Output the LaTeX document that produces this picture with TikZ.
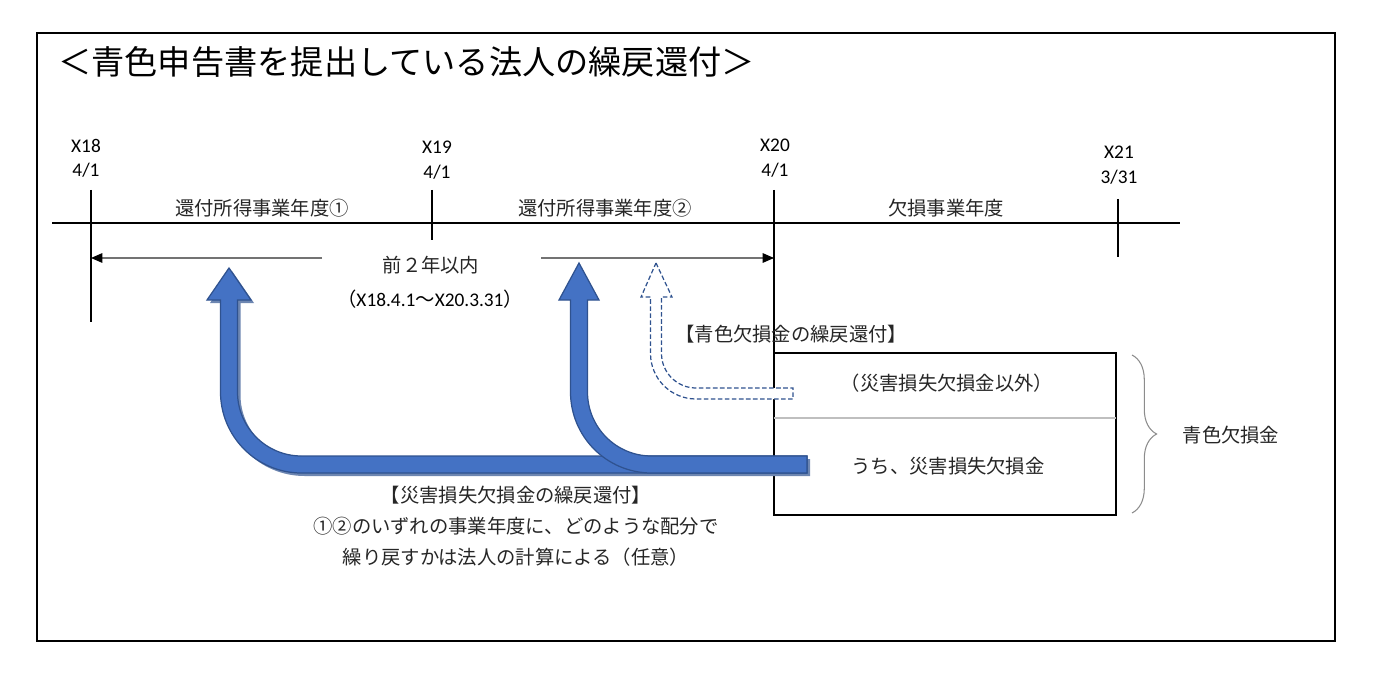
\documentclass[tikz,border=0pt]{standalone}
\usepackage{fontspec}
\setmainfont{Carlito}
\newfontfamily\jp{Noto Sans CJK JP}
\usetikzlibrary{arrows.meta,decorations.pathreplacing}
\definecolor{arrfill}{HTML}{4472C4}
\definecolor{arredge}{HTML}{2F528F}
\definecolor{divgray}{HTML}{BFBFBF}
\tikzset{jtxt/.style={font=\jp\fontsize{11}{13}\selectfont, text=black!85, inner sep=0pt},
         dtxt/.style={font=\fontsize{11}{13}\selectfont, inner sep=0pt},
         thinline/.style={line width=0.6pt},
         boldtick/.style={line width=1.2pt},
         bluearr/.style={fill=arrfill, draw=arredge, line width=0.7pt},
         dasharr/.style={fill=white, draw=arredge, line width=0.7pt, dash pattern=on 2.6pt off 1.4pt},
         spanarr/.style={draw=black!55, line width=0.6pt, -{Triangle[black,length=6.5pt,width=5.5pt]}}}

\begin{document}
\begin{tikzpicture}[x=0.02cm, y=-0.02cm]
  \useasboundingbox (0,0) rectangle (1377,679);
  \draw[thinline] (37,33) rectangle (1335,641);
  \node[anchor=west, inner sep=0pt, font=\jp\fontsize{18.9}{22}\selectfont] (title) at (58,62)
        {＜青色申告書を提出している法人の繰戻還付＞};

  % ---------- time line ----------
  \coordinate (lineL) at (52,223);  \coordinate (lineR) at (1180,223);
  \coordinate (t18) at (91,190);  \coordinate (t19) at (432,190);
  \coordinate (t20) at (774,190); \coordinate (t21) at (1118,199);
  \draw[thinline] (lineL) -- (lineR);
  \draw[thinline] (t18) -- (91,322);
  \draw[boldtick] (t19) -- (432,240);
  \draw[thinline] (t20) -- (774,515);
  \draw[boldtick] (t21) -- (1118,257);

  \node[dtxt] (y18) at (86,146) {X18};   \node[dtxt] (d18) at (86,170) {4/1};
  \node[dtxt] (y19) at (437,147) {X19};  \node[dtxt] (d19) at (437,172) {4/1};
  \node[dtxt] (y20) at (775,145) {X20};  \node[dtxt] (d20) at (775,170) {4/1};
  \node[dtxt] (y21) at (1119,152) {X21}; \node[dtxt] (d21) at (1119,177) {3/31};

  \node[jtxt] (per1) at (262,208) {還付所得事業年度①};
  \node[jtxt] (per2) at (605,208) {還付所得事業年度②};
  \node[jtxt] (perL) at (946,208) {欠損事業年度};

  % ---------- 2-year span ----------
  \node[jtxt] (span) at (431,265) {前２年以内};
  \node[dtxt] (range) at (430,299) {{\jp （}X18.4.1{\jp ～}X20.3.31{\jp ）}};
  \coordinate (spanL) at (322,258); \coordinate (spanR) at (541,258);
  \draw[spanarr] (spanL) -- (t18 |- spanL);
  \draw[spanarr] (spanR) -- (t20 |- spanR);

  % ---------- loss box ----------
  \coordinate (boxNW) at (774,353); \coordinate (boxSE) at (1116,515);
  \draw[line width=1pt] (boxNW) rectangle (boxSE);
  \draw[divgray, line width=1.2pt] (774,418) -- (1116,418);
  \node[jtxt] (other) at (947,383) {（災害損失欠損金以外）};
  \node[jtxt] (disas) at (948,466) {うち、災害損失欠損金};
  \draw[black!45, line width=0.6pt, decorate, decoration={brace, amplitude=14pt}] (1132,355) -- (1132,513);
  \node[jtxt] (blue) at (1231,435) {青色欠損金};

  % ---------- carry-back arrows ----------
  \draw[dasharr] (656,263) -- (672,297) -- (661.5,297) -- (661.5,353.5)
        arc[start angle=180, end angle=90, radius=34.5] -- (793,388) -- (793,399) -- (696,399)
        arc[start angle=90, end angle=180, radius=45.5] -- (650.5,297) -- (641,297) -- cycle;
  \node[jtxt, anchor=west] (bluelbl) at (675,334) {【青色欠損金の繰戻還付】};

  \fill[arredge!70] (232,271) -- (254,303) -- (240.5,303) -- (240.5,395)
        arc[start angle=180, end angle=90, radius=64] -- (810,459) -- (810,476) -- (304.5,476)
        arc[start angle=90, end angle=180, radius=81] -- (223.5,303) -- (210,303) -- cycle;
  \filldraw[bluearr] (229,268) -- (251,300) -- (237.5,300) -- (237.5,392)
        arc[start angle=180, end angle=90, radius=64] -- (807,456) -- (807,473) -- (301.5,473)
        arc[start angle=90, end angle=180, radius=81] -- (220.5,300) -- (207,300) -- cycle;
  \filldraw[bluearr] (579,263) -- (599,300) -- (587.5,300) -- (587.5,392)
        arc[start angle=180, end angle=90, radius=64] -- (807,456) -- (807,473) -- (651.5,473)
        arc[start angle=90, end angle=180, radius=81] -- (570.5,300) -- (559,300) -- cycle;

  \node[jtxt, align=center, font=\jp\fontsize{11}{17.6}\selectfont] (disaslbl) at (516,526)
        {【災害損失欠損金の繰戻還付】\\①②のいずれの事業年度に、どのような配分で\\繰り戻すかは法人の計算による（任意）};
\end{tikzpicture}
\end{document}
